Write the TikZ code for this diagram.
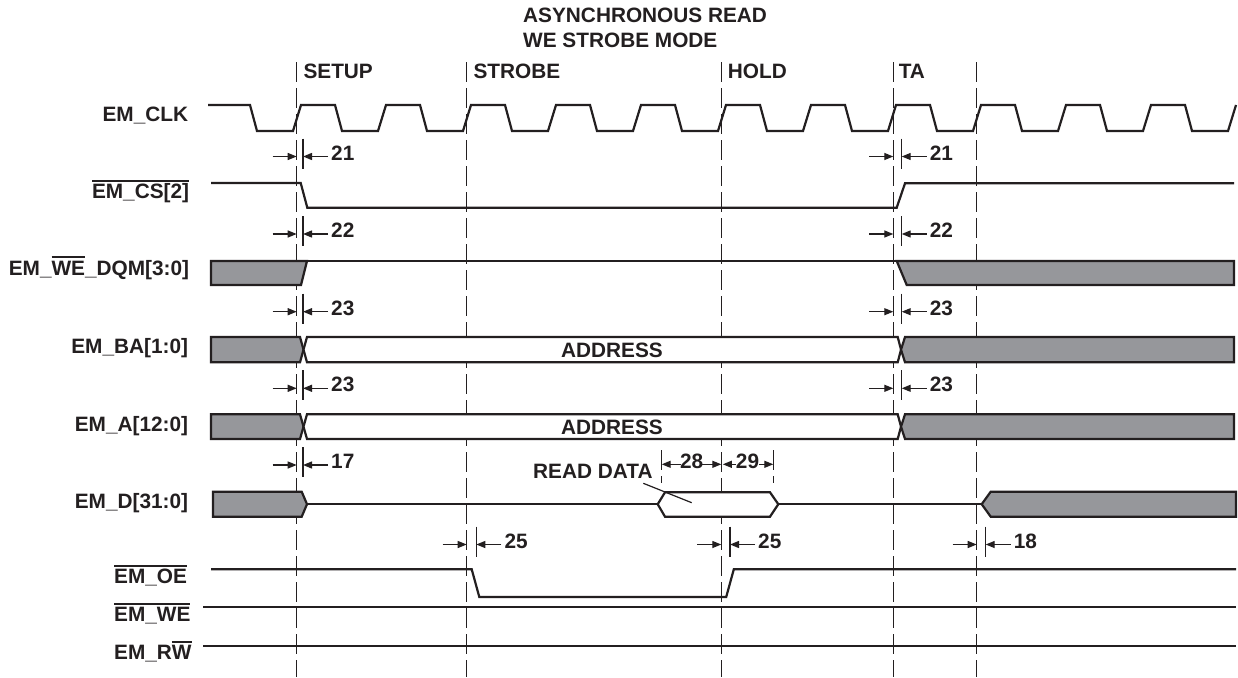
\documentclass[tikz,border=0pt]{standalone}
\usepackage{fontspec}
\setmainfont{Liberation Sans}
\usetikzlibrary{arrows.meta}
\definecolor{ink}{RGB}{35,31,32}
\definecolor{busgray}{RGB}{150,151,155}
\newcommand\myol[1]{\leavevmode\setbox0\hbox{#1}\rlap{\raisebox{17pt}{\rule{\wd0}{1.6pt}}}\box0}
\newcommand\tmark[5]{%
  \draw[tickl] ({#3},{#4-18}) -- ({#3},{#4+12});
  \draw[dimar] ({#2-24},{#4}) -- ({#2},{#4});
  \draw[dimar] ({#3+25},{#4}) -- ({#3},{#4});
  \node[txt] (#1) at ({#3+28},{#4+3.5}) {#5};}
\begin{document}
\begin{tikzpicture}[x=1pt,y=-1pt,color=ink,
  font=\fontsize{20.8}{25}\selectfont\bfseries,
  sig/.style={line width=2.2pt,line join=miter},
  bus/.style={sig,fill=busgray},
  wbus/.style={sig,fill=white},
  vdash/.style={line width=1.1pt,dash pattern=on 20pt off 6pt},
  tickl/.style={line width=1.1pt},
  dimar/.style={line width=1.3pt,-{Triangle[length=9pt,width=7pt]}},
  lbl/.style={inner sep=0pt,anchor=base east},
  txt/.style={inner sep=0pt,anchor=base west}]
\useasboundingbox[fill=white] (0,0) rectangle (1238,677);

% title
\node[txt] (t1) at (523,22.3) {ASYNCHRONOUS READ};
\node[txt] (t2) at (523,47.6) {WE STROBE MODE};

% phase lines
\foreach \n/\x in {setup/296.7,strobe/466.7,hold/721.3,ta/893.3,endl/976.7}{
  \coordinate (\n) at (\x,62);
  \draw[vdash] (\n) -- (\x,677);
}
\node[txt] (psetup) at (303.3,78.3) {SETUP};
\node[txt] (pstrobe) at (473.3,78.3) {STROBE};
\node[txt] (phold) at (727.7,78.3) {HOLD};
\node[txt] (pta) at (898.6,78.3) {TA};

% signal labels
\node[lbl] (lclk) at (188.3,121.7) {EM\_CLK};
\node[lbl] (lcs) at (189.3,198.5) {\myol{EM\_CS[2]}};
\node[lbl] (ldqm) at (189.3,275) {EM\_\myol{WE}\_DQM[3:0]};
\node[lbl] (lba) at (188.3,353.5) {EM\_BA[1:0]};
\node[lbl] (la) at (188.3,431) {EM\_A[12:0]};
\node[lbl] (ld) at (188.3,508) {EM\_D[31:0]};
\node[txt] (loe) at (114,583.5) {\myol{EM\_OE}};
\node[txt] (lwe) at (114,621.5) {\myol{EM\_WE}};
\node[txt] (lrw) at (114,659.5) {EM\_R\myol{W}};

% clock
\draw[sig] (208,105) -- (250,105) -- (257,131)
  foreach \k in {0,...,10}{
    -- ({297+85*\k-4},131) -- ({297+85*\k+4},105)
    -- ({297+85*\k+38},105) -- ({297+85*\k+45},131) }
  -- (1228,131) -- (1236,105);

% chip select
\draw[sig] (211,183) -- (300.7,183) -- (307.3,207.7) -- (896.7,207.7)
  -- (905,183.3) -- (1234,183.3);

% WE/DQM
\filldraw[bus] (211,261) -- (307,261) -- (301,285) -- (211,285) -- cycle;
\draw[sig] (307,261) -- (896.7,261);
\filldraw[bus] (896.7,261) -- (1234,261) -- (1234,285) -- (906.7,285) -- cycle;

% address buses
\foreach \t/\b/\nm in {337/362.3/ba,414.3/439/a}{
  \pgfmathsetmacro\m{(\t+\b)/2}
  \filldraw[bus] (211,\t) -- (300,\t) -- (303.5,\m) -- (300,\b) -- (211,\b) -- cycle;
  \filldraw[wbus] (307,\t) -- (897.7,\t) -- (901,\m) -- (897.7,\b) -- (307,\b)
    -- (303.5,\m) -- cycle;
  \filldraw[bus] (905,\t) -- (1234,\t) -- (1234,\b) -- (905,\b) -- (901,\m) -- cycle;
}
\node[inner sep=0pt,anchor=base] (addr1) at (612,357.7) {ADDRESS};
\node[inner sep=0pt,anchor=base] (addr2) at (612,434.3) {ADDRESS};

% data bus
\filldraw[bus] (213,491.7) -- (301.7,491.7) -- (307,504.2) -- (301.7,516.7)
  -- (213,516.7) -- cycle;
\draw[sig] (307,504.2) -- (657.7,504.2);
\filldraw[wbus] (657.7,504.2) -- (665,492.3) -- (770,492.3) -- (778.3,504.2)
  -- (770,516.7) -- (665,516.7) -- cycle;
\draw[sig] (778.3,504.2) -- (981.7,504.2);
\filldraw[bus] (981.7,504.2) -- (990.7,491.7) -- (1236,491.7) -- (1236,516.7)
  -- (990.7,516.7) -- cycle;
\node[txt] (rd) at (533,478.3) {READ DATA};
\draw[line width=1.2pt] (643.3,483.3) -- (691.7,502.7);

% OE, WE, RW
\draw[sig] (211,569.3) -- (471.7,569.3) -- (479.3,597) -- (726.2,597)
  -- (733.8,569.3) -- (1236,569.3);
\draw[sig] (203.3,607.3) -- (1236,607.3);
\draw[sig] (203.3,645.7) -- (1236,645.7);

% timing markers
\tmark{m21a}{296.7}{303}{156.5}{21}
\tmark{m22a}{296.7}{303}{234}{22}
\tmark{m23a}{296.7}{303}{311.7}{23}
\tmark{m23b}{296.7}{303}{388.3}{23}
\tmark{m17}{296.7}{303}{465}{17}
\tmark{m21b}{893.3}{901.7}{156.5}{21}
\tmark{m22b}{893.3}{901.7}{234}{22}
\tmark{m23c}{893.3}{901.7}{311.7}{23}
\tmark{m23d}{893.3}{901.7}{388.3}{23}
\tmark{m25a}{466.7}{476.3}{544.5}{25}
\tmark{m25b}{721.3}{730}{544.5}{25}
\tmark{m18}{976.7}{985.7}{544.5}{18}

% 28 / 29
\draw[vdash] (661.7,450) -- (661.7,483);
\draw[vdash] (773.3,450) -- (773.3,483);
\draw[dimar] (681,464.3) -- (661.7,464.3);
\node[inner sep=0pt,anchor=base] (m28) at (691.7,468) {28};
\draw[dimar] (702,464.3) -- (721.3,464.3);
\draw[dimar] (736,464.3) -- (722.8,464.3);
\node[inner sep=0pt,anchor=base] (m29) at (747.5,468) {29};
\draw[dimar] (759,464.3) -- (773.3,464.3);
\end{tikzpicture}
\end{document}
